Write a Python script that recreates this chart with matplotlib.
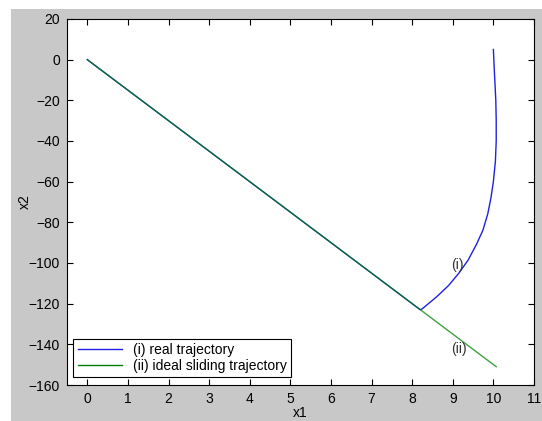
import matplotlib
matplotlib.use('Agg')
import matplotlib.pyplot as plt
from matplotlib.patches import Rectangle

plt.rcParams.update({
    'font.family': ['Liberation Sans', 'DejaVu Sans'],
    'font.size': 10,
    'axes.linewidth': 0.8,
})

# real trajectory (i): reaching phase then sliding along the line to the origin
x1_real = [10.0, 10.03, 10.06, 10.07, 10.07, 10.05, 10.0, 9.94, 9.86, 9.74, 9.58, 9.38, 9.15, 8.9, 8.61, 8.4, 8.25, 8.2, 6.0, 3.0, 0.0]
x2_real = [5, -8, -20, -30, -40, -50, -60, -68, -76, -84, -91, -98.5, -105, -111, -116.5, -120, -122.5, -123, -90, -45, 0]

# ideal sliding trajectory (ii): x2 = -15 x1
x1_ideal = [0.0, 10.07]
x2_ideal = [0.0, -151.0]

xticks = list(range(0, 12))
yticks = list(range(-160, 21, 20))

fig = plt.figure(figsize=(5.42, 4.21), dpi=100, facecolor='white')
# grey MATLAB-style figure background
fig.patches.append(Rectangle((11 / 542, 0), 1, 1 - 9 / 421, transform=fig.transFigure,
                             facecolor='#c8c8c8', edgecolor='none', zorder=-1))

ax = fig.add_axes([0.1236, 0.0855, 0.8616, 0.8694])
ax.set_facecolor('white')

ln_real, = ax.plot(x1_real, x2_real, color='#2020e0', lw=1.0, label='(i) real trajectory', zorder=2)
ln_ideal, = ax.plot(x1_ideal, x2_ideal, color='#008000', lw=1.0, alpha=0.75,
                    label='(ii) ideal sliding trajectory', zorder=3)

ax.text(9.11, -101, '(i)', ha='center', va='center', color='#333333')
ax.text(9.16, -142.3, '(ii)', ha='center', va='center', color='#333333')

ax.set_xlim(-0.5, 11)
ax.set_ylim(-160, 20)
ax.set_xticks(xticks)
ax.set_yticks(yticks)
ax.tick_params(direction='in', top=True, right=True, length=4, pad=5, colors='black')
ax.set_xlabel('x1', labelpad=0)
ax.set_ylabel('x2', labelpad=-2)

leg = ax.legend([ln_real, ln_ideal], ['(i) real trajectory', '(ii) ideal sliding trajectory'],
                loc='lower left', bbox_to_anchor=(0.005, 0.01),
                fancybox=False, edgecolor='black', framealpha=1, handlelength=3.2,
                borderpad=0.3, labelspacing=0.15, borderaxespad=0.3)
leg.get_frame().set_linewidth(0.8)
leg.get_lines()[1].set_alpha(1)

fig.savefig('out.png', dpi=100, facecolor=fig.get_facecolor())
